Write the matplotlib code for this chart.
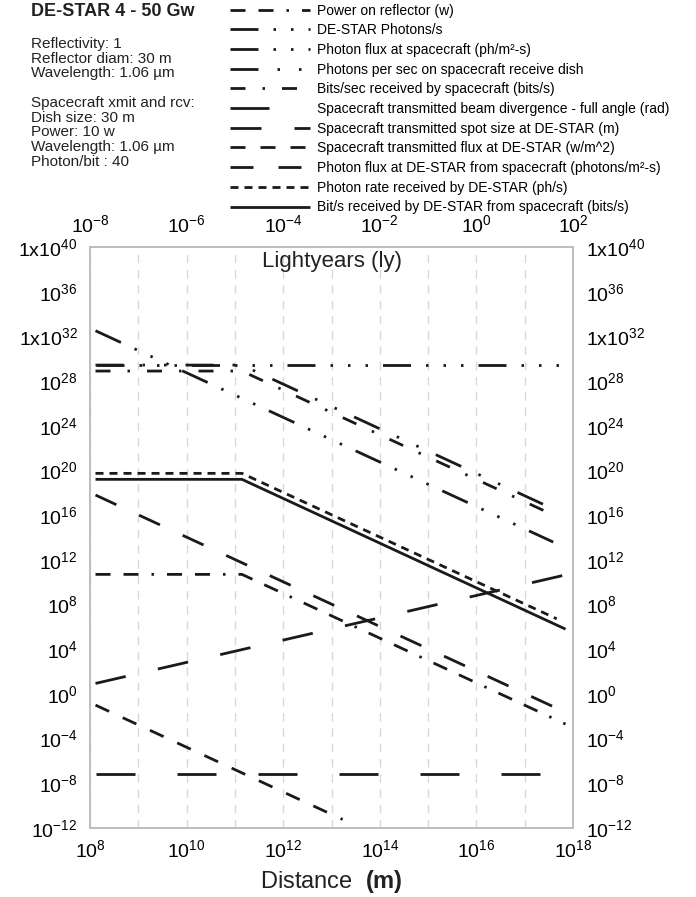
import numpy as np
import matplotlib
matplotlib.use("Agg")
import matplotlib.pyplot as plt
from matplotlib.ticker import NullLocator, NullFormatter

plt.rcParams.update({
    "font.family": "Liberation Sans",
    "mathtext.fontset": "custom",
    "mathtext.rm": "Liberation Sans",
    "mathtext.it": "Liberation Sans:italic",
    "mathtext.bf": "Liberation Sans:bold",
    "mathtext.default": "regular",
    "lines.scale_dashes": False,
})

# ---- data (distance in m) ----
power_dist = [1.3e8, 1.4e11, 7.0e17]
power_val = [5.0e10, 5.0e10, 2.0e-3]

destar_ph_dist = [1.3e8, 7.0e17]
destar_ph_val = [2.7e29, 2.7e29]

flux_sc_dist = [1.3e8, 3.9e17]
flux_sc_val = [3.2e32, 3.9e13]

dish_ph_dist = [1.3e8, 1.4e11, 4.2e17]
dish_ph_val = [2.7e29, 2.7e29, 3.1e16]

bits_sc_dist = [1.3e8, 1.4e11, 4.2e17]
bits_sc_val = [7.9e28, 7.9e28, 9.0e15]

diverg_dist = [1.3e8, 7.0e17]
diverg_val = [6.6e-8, 6.6e-8]

spot_dist = [1.3e8, 7.0e17]
spot_val = [8.7, 4.5e10]

sc_flux_dist = [1.3e8, 1.7e13]
sc_flux_val = [0.1, 5.8e-12]

ph_flux_ds_dist = [1.3e8, 4.8e17]
ph_flux_ds_val = [6.3e17, 0.048]

ph_rate_ds_dist = [1.3e8, 1.4e11, 4.6e17]
ph_rate_ds_val = [5.5e19, 5.5e19, 5.3e6]

bits_ds_dist = [1.3e8, 1.4e11, 7.0e17]
bits_ds_val = [1.6e19, 1.6e19, 6.3e5]

labels = [
    "Power on reflector (w)",
    "DE-STAR Photons/s",
    "Photon flux at spacecraft (ph/m\u00b2-s)",
    "Photons per sec on spacecraft receive dish",
    "Bits/sec received by spacecraft (bits/s)",
    "Spacecraft transmitted beam divergence - full angle (rad)",
    "Spacecraft transmitted spot size at DE-STAR (m)",
    "Spacecraft transmitted flux at DE-STAR (w/m^2)",
    "Photon flux at DE-STAR from spacecraft (photons/m\u00b2-s)",
    "Photon rate received by DE-STAR (ph/s)",
    "Bit/s received by DE-STAR from spacecraft (bits/s)",
]

series = [
    (power_dist, power_val),
    (destar_ph_dist, destar_ph_val),
    (flux_sc_dist, flux_sc_val),
    (dish_ph_dist, dish_ph_val),
    (bits_sc_dist, bits_sc_val),
    (diverg_dist, diverg_val),
    (spot_dist, spot_val),
    (sc_flux_dist, sc_flux_val),
    (ph_flux_ds_dist, ph_flux_ds_val),
    (ph_rate_ds_dist, ph_rate_ds_val),
    (bits_ds_dist, bits_ds_val),
]

# dash patterns in pixels (converted to points below)
dash_px = [
    [15, 13, 15, 13, 2.5, 13],
    [28, 15, 2.5, 15, 2.5, 15, 2.5, 15],
    [28, 15, 2.5, 15, 2.5, 15, 2.5, 15],
    [28, 19, 2.5, 19, 2.5, 19],
    [15, 17, 2.5, 17],
    [39, 42],
    [31, 33],
    [15, 15],
    [23, 25],
    [8, 6],
    None,
]

W, H = 696, 897
fig = plt.figure(figsize=(W / 100, H / 100), dpi=100)
ax = fig.add_axes([90 / W, 1 - 828 / H, (573 - 90) / W, (828 - 247) / H])

px2pt = 0.72
for (d, v), lab, dp in zip(series, labels, dash_px):
    line, = ax.plot(d, v, color="#1a1a1a", lw=2.0, label=lab,
                    solid_capstyle="butt", dash_capstyle="butt")
    if dp is not None:
        line.set_dashes([p * px2pt for p in dp])

ax.set_xscale("log")
ax.set_yscale("log")
ax.set_xlim(1e8, 1e18)
ax.set_ylim(1e-12, 1e40)

xt = [10.0 ** e for e in range(8, 19, 2)]
ax.set_xticks(xt)
ax.set_xticklabels([f"$10^{{{e}}}$" for e in range(8, 19, 2)])
ax.set_xticks([10.0 ** e for e in range(9, 18, 2)], minor=True)
ax.xaxis.set_minor_formatter(NullFormatter())
ax.yaxis.set_minor_locator(NullLocator())

yexp = list(range(40, -13, -4))
ax.set_yticks([10.0 ** e for e in yexp])
ylabels = []
for e in yexp:
    if e in (40, 32):
        ylabels.append(f"$1x10^{{{e}}}$")
    else:
        ylabels.append(f"$10^{{{e}}}$")
ax.set_yticklabels(ylabels)

ax.tick_params(axis="both", which="both", length=0, labelsize=14, pad=8)
ax.tick_params(axis="y", right=True, labelright=True)
ax.tick_params(axis="y", which="major", pad=9)
ax.grid(True, axis="x", which="both", color="#d8d8d8", lw=1.0, linestyle=(0, (6, 5)))
ax.set_axisbelow(True)
for s in ax.spines.values():
    s.set_color("#bdbdbd")
    s.set_linewidth(1.2)

# top axis in lightyears
axt = ax.twiny()
axt.set_xscale("log")
axt.set_xlim(1e-8, 1e2)
axt.set_xticks([10.0 ** e for e in range(-8, 3, 2)])
axt.set_xticklabels([f"$10^{{{e}}}$" for e in range(-8, 3, 2)])
axt.xaxis.set_minor_locator(NullLocator())
axt.tick_params(axis="x", which="both", length=0, labelsize=14, pad=8)
for s in axt.spines.values():
    s.set_color("#bdbdbd")
    s.set_linewidth(1.2)

ax.text(0.5, (828 - 261) / (828 - 247), "Lightyears (ly)", transform=ax.transAxes,
        ha="center", va="center", fontsize=16, color="#222222")

fig.text(331 / W, 1 - 881 / H, "Distance  $\\mathbf{(m)}$", ha="center", va="center",
         fontsize=17, color="#222222")

# annotation block on the left
fig.text(31 / W, 1 - 12 / H, "DE-STAR 4 - 50 Gw", ha="left", va="center",
         fontsize=13, fontweight="bold", color="#222222")
info = [
    ("Reflectivity: 1", 44),
    ("Reflector diam: 30 m", 59),
    ("Wavelength: 1.06 \u00b5m", 73),
    ("Spacecraft xmit and rcv:", 103),
    ("Dish size: 30 m", 118),
    ("Power: 10 w", 132),
    ("Wavelength: 1.06 \u00b5m", 147),
    ("Photon/bit : 40", 162),
]
for txt, yy in info:
    fig.text(31 / W, 1 - yy / H, txt, ha="left", va="center", fontsize=11, color="#222222")

handles, labs = ax.get_legend_handles_labels()
fig.legend(handles, labs, loc="upper left", bbox_to_anchor=(230 / W, 1 - 3.5 / H),
           frameon=False, fontsize=10, handlelength=5.76, handletextpad=0.5,
           labelspacing=0.41, borderpad=0, borderaxespad=0)

fig.savefig("out.png", dpi=100)
